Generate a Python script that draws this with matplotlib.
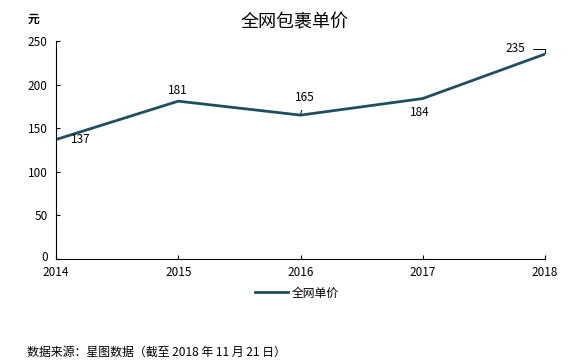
import matplotlib
matplotlib.use("Agg")
import matplotlib.pyplot as plt
import matplotlib.transforms as mtransforms

plt.rcParams['font.family'] = ['Noto Sans CJK SC', 'DejaVu Sans']

years = [2014, 2015, 2016, 2017, 2018]
price = [137, 181, 165, 184, 235]
yticks = [0, 50, 100, 150, 200, 250]
# label offsets in points (dx, dy)
offsets = [(18, 0), (0, 8), (3, 13), (-2, -10), (-21, 4)]
# leader line style per label (None = no leader)
leaders = [None, None, 'arc3', None, 'angle,angleA=0,angleB=90,rad=0']

line_col = '#1f4e5f'

fig = plt.figure(figsize=(5.79, 3.64), dpi=100)
ax = fig.add_axes([56/579, 105/364, (545-56)/579, (259-41)/364])

ax.plot(years, price, color=line_col, linewidth=2.0, label='全网单价')

for x, y, off, ld in zip(years, price, offsets, leaders):
    if ld:
        ax.annotate(str(y), (x, y), xytext=off, textcoords='offset points',
                    ha='center', va='center', fontsize=8.5,
                    arrowprops=dict(arrowstyle='-', color='black', lw=0.7,
                                    connectionstyle=ld, shrinkA=3, shrinkB=1))
    else:
        ax.annotate(str(y), (x, y), xytext=off, textcoords='offset points',
                    ha='center', va='center', fontsize=8.5)

ax.set_xlim(2014, 2018)
ax.set_ylim(0, 250)
ax.set_xticks(years)
ax.set_yticks(yticks)
ax.tick_params(axis='both', direction='in', labelsize=8.5, length=3, width=0.8)
ax.tick_params(axis='x', pad=5)
ax.tick_params(axis='y', pad=6)
for s in ['top', 'right']:
    ax.spines[s].set_visible(False)
for s in ['left', 'bottom']:
    ax.spines[s].set_linewidth(0.8)

# nudge the "0" label up a bit, it sits right above 2014
fig.canvas.draw()
lab0 = ax.get_yticklabels()[0]
lab0.set_transform(lab0.get_transform() + mtransforms.ScaledTranslation(0, 2/72, fig.dpi_scale_trans))

fig.text(295/579, 1 - 22/364, '全网包裹单价', ha='center', va='center', fontsize=13)
fig.text(34/579, 1 - 19/364, '元', ha='center', va='center', fontsize=8.5, fontweight='bold')

fig.legend(loc='center', bbox_to_anchor=(297/579, 1 - 293/364), frameon=False,
           fontsize=8.5, handlelength=2.8, handletextpad=0.3)

fig.text(27/579, 1 - 352/364, '数据来源：星图数据（截至 2018 年 11 月 21 日）',
         ha='left', va='center', fontsize=8.6)

fig.savefig('out.png', dpi=100)
